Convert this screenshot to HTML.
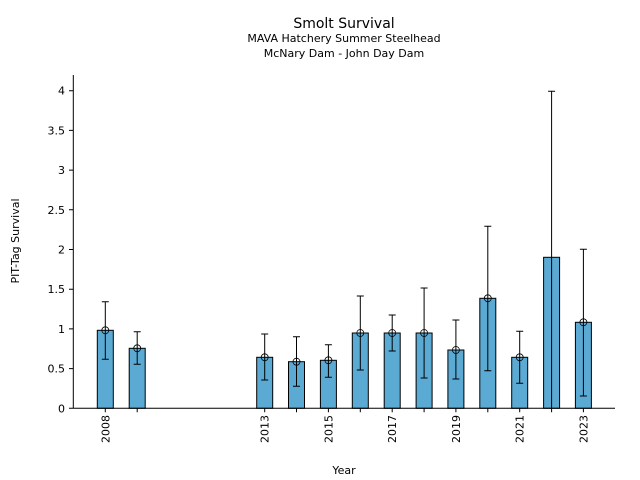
<!DOCTYPE html>
<html><head><meta charset="utf-8"><style>body{margin:0;background:#fff}svg{display:block}</style></head>
<body>
<svg width="640" height="480" xmlns="http://www.w3.org/2000/svg" font-family="'DejaVu Sans','Liberation Sans',sans-serif">
<rect width="640" height="480" fill="#fff"/>
<text x="344" y="28" font-size="14" text-anchor="middle">Smolt Survival</text>
<text x="344" y="42" font-size="11" text-anchor="middle">MAVA Hatchery Summer Steelhead</text>
<text x="344" y="57" font-size="11" text-anchor="middle">McNary Dam - John Day Dam</text>
<g fill="#5aaad4" stroke="#000" stroke-width="1">
<rect x="97.3" y="330.3" width="16" height="78"/>
<rect x="129.2" y="348.3" width="16" height="60"/>
<rect x="256.7" y="357.3" width="16" height="51"/>
<rect x="288.5" y="361.7" width="16" height="46.6"/>
<rect x="320.4" y="360.3" width="16" height="48"/>
<rect x="352.3" y="333" width="16" height="75.3"/>
<rect x="384.2" y="333" width="16" height="75.3"/>
<rect x="416.1" y="333" width="16" height="75.3"/>
<rect x="447.9" y="350" width="16" height="58.3"/>
<rect x="479.8" y="298.3" width="16" height="110"/>
<rect x="511.7" y="357.3" width="16" height="51"/>
<rect x="543.6" y="257.3" width="16" height="151"/>
<rect x="575.4" y="322.3" width="16" height="86"/>
</g>
<g stroke="#000" stroke-width="1" fill="none">
<path d="M105.3 301.7V359.3M101.8 301.7h7M101.8 359.3h7"/>
<path d="M137.2 331.7V364.3M133.7 331.7h7M133.7 364.3h7"/>
<path d="M264.7 334V380M261.2 334h7M261.2 380h7"/>
<path d="M296.5 336.7V386.3M293 336.7h7M293 386.3h7"/>
<path d="M328.4 344.7V377.3M324.9 344.7h7M324.9 377.3h7"/>
<path d="M360.3 296V370M356.8 296h7M356.8 370h7"/>
<path d="M392.2 315V351M388.7 315h7M388.7 351h7"/>
<path d="M424.1 288V378M420.6 288h7M420.6 378h7"/>
<path d="M455.9 320V379M452.4 320h7M452.4 379h7"/>
<path d="M487.8 226.3V370.7M484.3 226.3h7M484.3 370.7h7"/>
<path d="M519.7 331.3V383.3M516.2 331.3h7M516.2 383.3h7"/>
<path d="M551.6 91.3V408.3M548.1 91.3h7"/>
<path d="M583.4 249.3V396M579.9 249.3h7M579.9 396h7"/>
</g>
<g stroke="#000" stroke-width="0.8" fill="none">
<circle cx="105.3" cy="330.3" r="3.5"/><circle cx="137.2" cy="348.3" r="3.5"/>
<circle cx="264.7" cy="357.3" r="3.5"/><circle cx="296.5" cy="361.7" r="3.5"/>
<circle cx="328.4" cy="360.3" r="3.5"/><circle cx="360.3" cy="333" r="3.5"/>
<circle cx="392.2" cy="333" r="3.5"/><circle cx="424.1" cy="333" r="3.5"/>
<circle cx="455.9" cy="350" r="3.5"/><circle cx="487.8" cy="298.3" r="3.5"/>
<circle cx="519.7" cy="357.3" r="3.5"/><circle cx="583.4" cy="322.3" r="3.5"/>
</g>
<g stroke="#000" stroke-width="1">
<path d="M105.3 408.3v4M137.2 408.3v4M264.7 408.3v4M296.5 408.3v4M328.4 408.3v4M360.3 408.3v4M392.2 408.3v4M424.1 408.3v4M455.9 408.3v4M487.8 408.3v4M519.7 408.3v4M551.6 408.3v4M583.4 408.3v4"/>
<path d="M69 408.3h4.3M69 368.6h4.3M69 328.9h4.3M69 289.2h4.3M69 249.5h4.3M69 209.8h4.3M69 170.1h4.3M69 130.4h4.3M69 90.7h4.3"/>
<line x1="73.3" x2="73.3" y1="75" y2="408.3"/>
<line x1="73.3" x2="615" y1="408.3" y2="408.3"/>
</g>
<g font-size="11" text-anchor="end">
<text transform="translate(109.3,415) rotate(-90)">2008</text>
<text transform="translate(268.7,415) rotate(-90)">2013</text>
<text transform="translate(332.4,415) rotate(-90)">2015</text>
<text transform="translate(396.2,415) rotate(-90)">2017</text>
<text transform="translate(459.9,415) rotate(-90)">2019</text>
<text transform="translate(523.7,415) rotate(-90)">2021</text>
<text transform="translate(587.4,415) rotate(-90)">2023</text>
<text x="65" y="412.3">0</text>
<text x="65" y="372.6">0.5</text>
<text x="65" y="332.9">1</text>
<text x="65" y="293.2">1.5</text>
<text x="65" y="253.5">2</text>
<text x="65" y="213.8">2.5</text>
<text x="65" y="174.1">3</text>
<text x="65" y="134.4">3.5</text>
<text x="65" y="94.7">4</text>
</g>
<text x="344" y="474" font-size="11" text-anchor="middle">Year</text>
<text transform="translate(19,241) rotate(-90)" font-size="11" text-anchor="middle">PIT-Tag Survival</text>
</svg>
</body></html>
